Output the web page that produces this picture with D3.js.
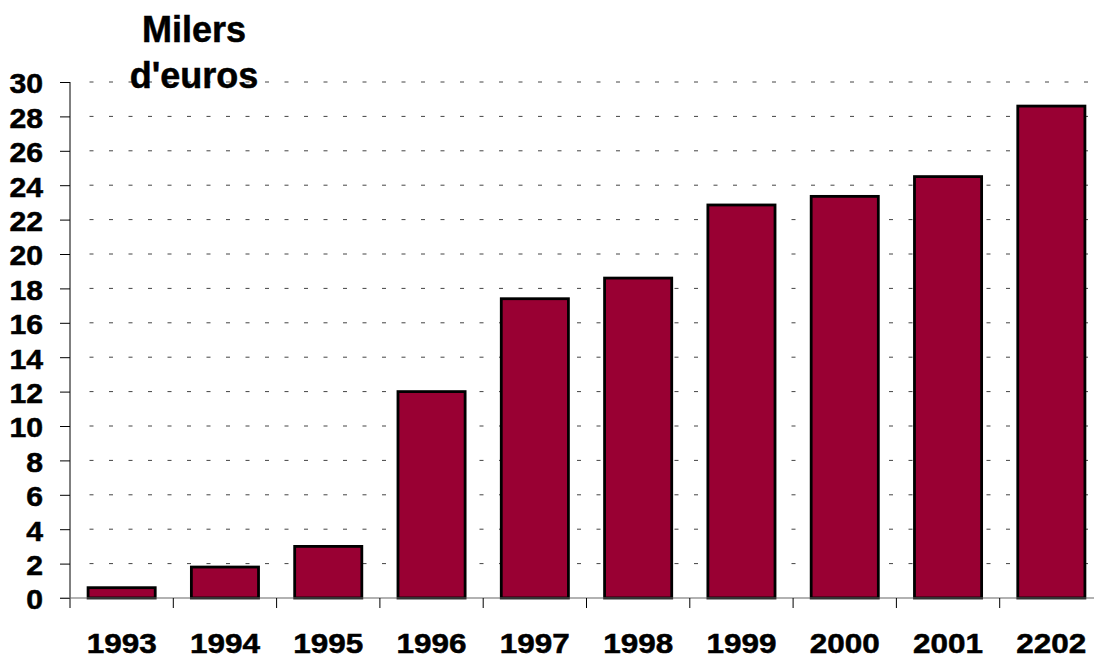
<!DOCTYPE html>
<html>
<head>
<meta charset="utf-8">
<script src="https://cdn.jsdelivr.net/npm/d3@7"></script>
<style>
  body { margin: 0; background: #fff; }
  svg { display: block; font-family: "Liberation Sans", Arial, sans-serif; font-weight: bold; }
  text { stroke: #000; stroke-width: 0.5px; }
</style>
</head>
<body>
<div class="chart"></div>
<script>
// year labels as printed on the chart (yes, "2202")
const years = ["1993", "1994", "1995", "1996", "1997", "1998", "1999", "2000", "2001", "2202"];
const values = [0.6, 1.8, 3.0, 12.0, 17.4, 18.6, 22.85, 23.35, 24.5, 28.6];
const yTicks = [0, 2, 4, 6, 8, 10, 12, 14, 16, 18, 20, 22, 24, 26, 28, 30];
const titleLines = ["Milers", "d'euros"];

const width = 1094, height = 660;

const svg = d3.select('.chart')
  .append('svg')
  .attr('width', width)
  .attr('height', height);

const x = d3.scaleBand()
  .domain(years)
  .range([70, 1103])
  .paddingInner(0.35)
  .paddingOuter(0.175);

const y = d3.scaleLinear()
  .domain([0, 30])
  .range([598, 82]);

// dashed grid
svg.append('g')
  .selectAll('line')
  .data(yTicks.filter(d => d > 0))
  .enter().append('line')
  .attr('x1', 89.5)
  .attr('x2', width)
  .attr('y1', d => y(d))
  .attr('y2', d => y(d))
  .attr('stroke', '#444')
  .attr('stroke-width', 1)
  .attr('stroke-dasharray', '4 15.5');

// bars
svg.append('g')
  .selectAll('rect')
  .data(values)
  .enter().append('rect')
  .attr('x', (d, i) => x(years[i]))
  .attr('y', d => y(d))
  .attr('width', x.bandwidth())
  .attr('height', d => y(0) - y(d))
  .attr('fill', '#990033')
  .attr('stroke', '#000')
  .attr('stroke-width', 2.8);

// y axis
const yAxis = svg.append('g')
  .attr('transform', 'translate(70,0)')
  .call(d3.axisLeft(y).tickValues(yTicks).tickSize(10).tickPadding(17));
yAxis.select('.domain').attr('d', 'M0,' + y(30) + 'V' + (y(0) + 10)).attr('stroke', '#000');
yAxis.selectAll('.tick line').attr('stroke', '#000');
yAxis.selectAll('.tick text')
  .attr('font-size', 27)
  .attr('font-family', '"Liberation Sans", Arial, sans-serif')
  .attr('font-weight', 'bold')
  .attr('fill', '#000')
  .attr('dy', '0.4em')
  .attr('textLength', d => String(d).length * 16.8)
  .attr('lengthAdjust', 'spacingAndGlyphs');

// x axis line and boundary ticks
svg.append('line')
  .attr('x1', 60).attr('x2', width)
  .attr('y1', y(0)).attr('y2', y(0))
  .attr('stroke', '#666').attr('stroke-width', 1.2);

svg.append('g')
  .selectAll('line')
  .data(years.slice(1))
  .enter().append('line')
  .attr('x1', d => x(d) - x.step() * x.paddingInner() / 2)
  .attr('x2', d => x(d) - x.step() * x.paddingInner() / 2)
  .attr('y1', y(0))
  .attr('y2', y(0) + 10)
  .attr('stroke', '#000');

svg.append('g')
  .selectAll('text')
  .data(years)
  .enter().append('text')
  .attr('x', d => x(d) + x.bandwidth() / 2)
  .attr('y', 653)
  .attr('text-anchor', 'middle')
  .attr('font-size', 27)
  .attr('textLength', 70)
  .attr('lengthAdjust', 'spacingAndGlyphs')
  .text(d => d);

// title in the top-left
svg.append('g')
  .selectAll('text')
  .data(titleLines)
  .enter().append('text')
  .attr('x', 194)
  .attr('y', (d, i) => 42 + i * 46)
  .attr('text-anchor', 'middle')
  .attr('font-size', 36)
  .text(d => d);
</script>
</body>
</html>
